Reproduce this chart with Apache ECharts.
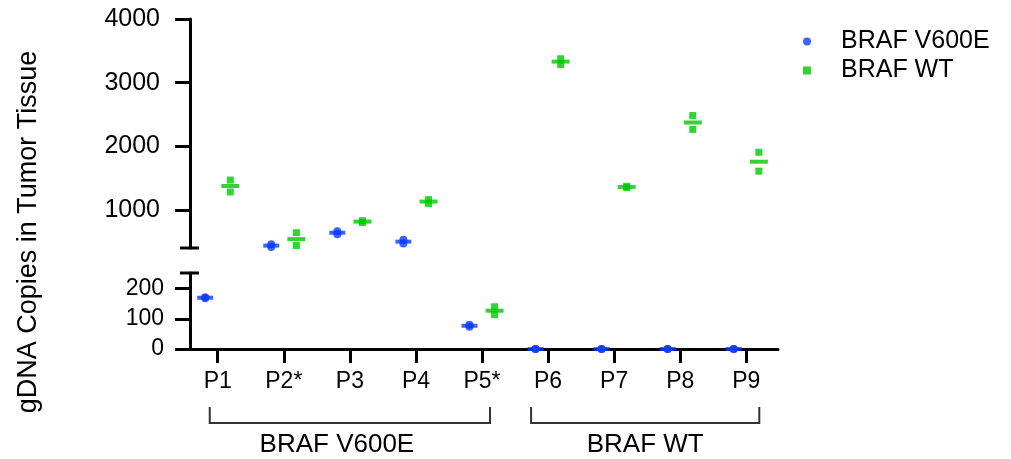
<!DOCTYPE html>
<html>
<head>
<meta charset="utf-8">
<script src="https://cdn.jsdelivr.net/npm/echarts@6/dist/echarts.min.js"></script>
<style>
  html, body { margin: 0; padding: 0; background: #fff; }
  #chart { width: 1011px; height: 459px; }
</style>
</head>
<body>
<div id="chart"></div>
<script>
// patients and replicate values (gDNA copies)
const patients = ['P1', 'P2*', 'P3', 'P4', 'P5*', 'P6', 'P7', 'P8', 'P9'];
const v600eRep1 = [172, 460, 665, 530, 80, 0, 0, 0, 0];
const v600eRep2 = [168, 415, 615, 470, 74, 0, 0, 0, 0];
const wtRep1 = [1468, 640, 830, 1160, 140, 3375, 1370, 2482, 1905];
const wtRep2 = [1281, 440, 800, 1100, 114, 3285, 1350, 2264, 1608];
const upperTicks = [1000, 2000, 3000, 4000];
const lowerTicks = [0, 100, 200];
const groupNames = ['BRAF V600E', 'BRAF WT'];
const groupPatients = [[0, 4], [5, 8]];

const BREAK = 400;
const BLUE = '#0b3cff';
const GREEN = '#00c800';
const FONT = '"Liberation Sans", Arial, sans-serif';

function points(a, b, off, upper) {
  let res = [];
  for (let i = 0; i < a.length; i++) {
    [a[i], b[i]].forEach(function (v) {
      if (upper ? v >= BREAK : v < BREAK) res.push([i + off, v]);
    });
  }
  return res;
}
function means(a, b, off, upper) {
  let res = [];
  for (let i = 0; i < a.length; i++) {
    let m = (a[i] + b[i]) / 2;
    if (upper ? m >= BREAK : m < BREAK) res.push([i + off, m]);
  }
  return res;
}

let chart = echarts.init(document.getElementById('chart'));

let series = [];
[true, false].forEach(function (upper, g) {
  series.push(
    { name: 'BRAF V600E', type: 'scatter', xAxisIndex: g, yAxisIndex: g, z: 5, clip: false,
      symbol: 'circle', symbolSize: 8, itemStyle: { color: BLUE },
      data: points(v600eRep1, v600eRep2, -0.19, upper) },
    { name: 'BRAF V600E', type: 'scatter', xAxisIndex: g, yAxisIndex: g, z: 5, clip: false,
      symbol: 'rect', symbolSize: [16, 4], itemStyle: { color: BLUE },
      data: means(v600eRep1, v600eRep2, -0.19, upper) },
    { name: 'BRAF WT', type: 'scatter', xAxisIndex: g, yAxisIndex: g, z: 5, clip: false,
      symbol: 'rect', symbolSize: 7, itemStyle: { color: GREEN },
      data: points(wtRep1, wtRep2, 0.19, upper) },
    { name: 'BRAF WT', type: 'scatter', xAxisIndex: g, yAxisIndex: g, z: 5, clip: false,
      symbol: 'rect', symbolSize: [18, 4], itemStyle: { color: GREEN },
      data: means(wtRep1, wtRep2, 0.19, upper) }
  );
});

const axisLine = { show: true, onZero: false, lineStyle: { color: '#000', width: 3 } };

chart.setOption({
  animation: false,
  legend: {
    orient: 'vertical', left: 798, top: 24, itemGap: 4,
    itemWidth: 8, itemHeight: 8,
    textStyle: { fontSize: 25, fontFamily: FONT, color: '#000', padding: [0, 0, 0, 25] },
    data: [{ name: 'BRAF V600E', icon: 'circle' }, { name: 'BRAF WT', icon: 'rect' }]
  },
  grid: [
    { left: 190, top: 19, width: 588, height: 229 },
    { left: 190, top: 273, width: 588, height: 76 }
  ],
  xAxis: [
    { type: 'value', gridIndex: 0, min: -0.42, max: 8.48, show: false, splitLine: { show: false } },
    { type: 'value', gridIndex: 1, min: -0.42, max: 8.48, splitLine: { show: false },
      axisLine: axisLine,
      axisTick: { customValues: patients.map((p, i) => i), length: 14, lineStyle: { width: 3, color: '#000' } },
      axisLabel: { customValues: patients.map((p, i) => i), margin: 21, fontSize: 23, fontFamily: FONT, color: '#000',
        formatter: v => patients[Math.round(v)] } }
  ],
  yAxis: [
    { type: 'value', gridIndex: 0, min: BREAK, max: 4000, splitLine: { show: false },
      axisLine: axisLine,
      axisTick: { customValues: upperTicks, length: 15, lineStyle: { width: 3, color: '#000' } },
      axisLabel: { customValues: upperTicks, margin: 30, fontSize: 25, fontFamily: FONT, color: '#000',
        formatter: v => String(v) } },
    { type: 'value', gridIndex: 1, min: 0, max: 252, splitLine: { show: false },
      axisLine: axisLine,
      axisTick: { customValues: lowerTicks, length: 15, lineStyle: { width: 3, color: '#000' } },
      axisLabel: { customValues: lowerTicks, margin: 26, fontSize: 23, fontFamily: FONT, color: '#000',
        formatter: v => String(v) } }
  ],
  series: series
});

// axis break caps, y title, group brackets
let gfx = [];
let capUp = chart.convertToPixel({ xAxisIndex: 0, yAxisIndex: 0 }, [-0.42, BREAK]);
let capLo = chart.convertToPixel({ xAxisIndex: 1, yAxisIndex: 1 }, [-0.42, 252]);
[capUp, capLo].forEach(function (p) {
  gfx.push({ type: 'line', shape: { x1: p[0] - 10, y1: p[1], x2: p[0] + 9, y2: p[1] },
    style: { stroke: '#000', lineWidth: 3 } });
});
gfx.push({ type: 'text', x: 29, y: 232, rotation: Math.PI / 2,
  style: { text: 'gDNA Copies in Tumor Tissue', fontSize: 27, fontFamily: FONT, fill: '#000',
    align: 'center', verticalAlign: 'middle' } });

const bracketPad = [[8, 8], [17, 13]];
const labelShift = [-13, 0];
groupPatients.forEach(function (span, k) {
  let x1 = chart.convertToPixel({ xAxisIndex: 1 }, span[0]) - bracketPad[k][0];
  let x2 = chart.convertToPixel({ xAxisIndex: 1 }, span[1]) + bracketPad[k][1];
  gfx.push({ type: 'polyline', shape: { points: [[x1, 407], [x1, 423], [x2, 423], [x2, 407]] },
    style: { stroke: '#333', lineWidth: 2, fill: null } });
  gfx.push({ type: 'text', x: (x1 + x2) / 2 + labelShift[k], y: 445,
    style: { text: groupNames[k], fontSize: 26, fontFamily: FONT, fill: '#000',
      align: 'center', verticalAlign: 'middle' } });
});
chart.setOption({ graphic: gfx });
</script>
</body>
</html>
